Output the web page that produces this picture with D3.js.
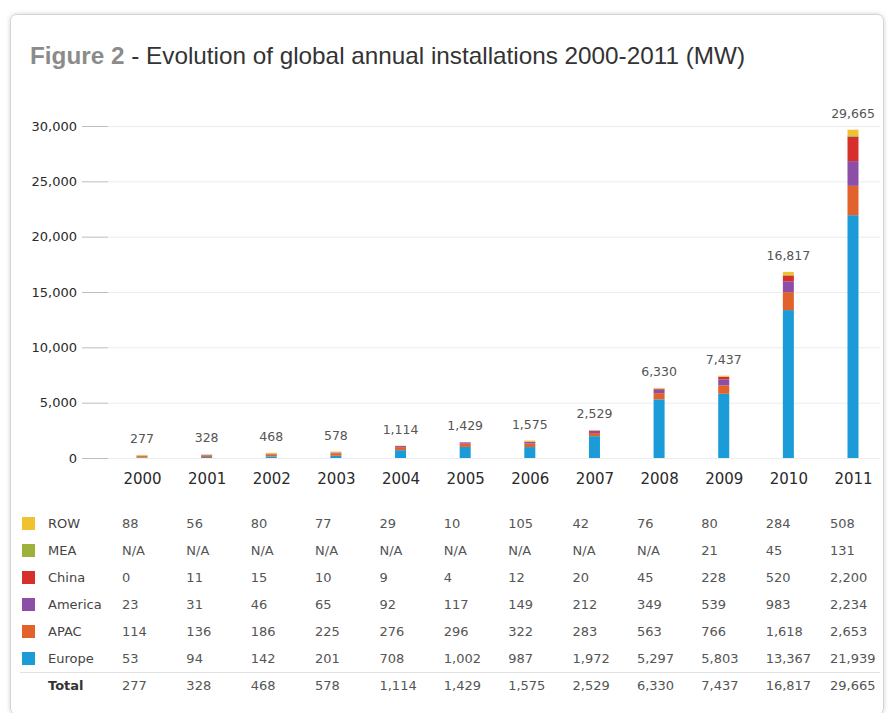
<!DOCTYPE html>
<html>
<head>
<meta charset="utf-8">
<script src="https://cdn.jsdelivr.net/npm/d3@7"></script>
<style>
  html, body { margin: 0; padding: 0; background: #ffffff; }
  svg { display: block; }
</style>
</head>
<body>
<svg id="chart" width="891" height="713"></svg>
<script>
// Annual installations by region (MW); null = N/A
const years    = ["2000","2001","2002","2003","2004","2005","2006","2007","2008","2009","2010","2011"];
const europe   = [53, 94, 142, 201, 708, 1002, 987, 1972, 5297, 5803, 13367, 21939];
const apac     = [114, 136, 186, 225, 276, 296, 322, 283, 563, 766, 1618, 2653];
const america  = [23, 31, 46, 65, 92, 117, 149, 212, 349, 539, 983, 2234];
const china    = [0, 11, 15, 10, 9, 4, 12, 20, 45, 228, 520, 2200];
const mea      = [null, null, null, null, null, null, null, null, null, 21, 45, 131];
const row      = [88, 56, 80, 77, 29, 10, 105, 42, 76, 80, 284, 508];
const totals   = [277, 328, 468, 578, 1114, 1429, 1575, 2529, 6330, 7437, 16817, 29665];
const yTicks   = [0, 5000, 10000, 15000, 20000, 25000, 30000];

// Stack order bottom to top
const seriesNames  = ["Europe", "APAC", "America", "China", "MEA", "ROW"];
const seriesValues = [europe, apac, america, china, mea, row];
const seriesColors = ["#1b9bd7", "#e2622b", "#8c4ea6", "#d7302c", "#9db13b", "#f2c12f"];

const svg = d3.select("#chart");
const fmt = d3.format(",");

// Card frame
const defs = svg.append("defs");
const f = defs.append("filter").attr("id", "shadow").attr("x", "-5%").attr("y", "-5%").attr("width", "110%").attr("height", "110%");
f.append("feDropShadow").attr("dx", 0).attr("dy", 0).attr("stdDeviation", 2).attr("flood-color", "#000").attr("flood-opacity", 0.18);
svg.append("rect")
  .attr("x", 10.5).attr("y", 14.5).attr("width", 873).attr("height", 700)
  .attr("rx", 6).attr("fill", "#fff").attr("stroke", "#d4d4d4").attr("stroke-width", 1)
  .attr("filter", "url(#shadow)");

// Title
const title = svg.append("text")
  .attr("x", 30).attr("y", 64)
  .attr("font-family", "'Liberation Sans', Arial, sans-serif")
  .attr("font-size", 24)
  .attr("textLength", 715)
  .attr("lengthAdjust", "spacingAndGlyphs");
title.append("tspan").attr("fill", "#8b8b8b").attr("font-weight", "bold").text("Figure 2");
title.append("tspan").attr("fill", "#333").text(" - Evolution of global annual installations 2000-2011 (MW)");

// Scales
const y = d3.scaleLinear().domain([0, 30000]).range([458, 126]);
const x = d3.scalePoint().domain(years).range([142, 853]);
const xTable = d3.scalePoint().domain(years).range([122, 830]);
const barW = 11;

// Gridlines
const grid = svg.append("g");
grid.selectAll("line.grid").data(yTicks).join("line")
  .attr("class", "grid")
  .attr("x1", 108).attr("x2", 880)
  .attr("y1", d => y(d) + 0.5).attr("y2", d => y(d) + 0.5)
  .attr("stroke", "#ececec").attr("stroke-width", 1);

// Y axis with short tick marks
const yAxis = svg.append("g")
  .attr("transform", "translate(108,0)")
  .call(d3.axisLeft(y).tickValues(yTicks).tickFormat(fmt).tickSize(26).tickPadding(5));
yAxis.select(".domain").remove();
yAxis.selectAll(".tick line").attr("stroke", "#bdbdbd");
yAxis.selectAll(".tick text")
  .attr("fill", "#2a2a2a")
  .attr("font-family", "'DejaVu Sans', Verdana, sans-serif")
  .attr("font-size", 13);

// Stacked bars
const stackData = years.map((yr, i) => {
  const o = { year: yr };
  seriesNames.forEach((n, k) => { o[n] = seriesValues[k][i] || 0; });
  return o;
});
const stacked = d3.stack().keys(seriesNames)(stackData);

svg.append("g").selectAll("g").data(stacked).join("g")
  .attr("fill", (d, i) => seriesColors[i])
  .selectAll("rect").data(d => d).join("rect")
  .attr("x", d => x(d.data.year) - barW / 2)
  .attr("width", barW)
  .attr("y", d => y(d[1]))
  .attr("height", d => Math.max(0, y(d[0]) - y(d[1])));

// Total labels above bars
svg.append("g").selectAll("text").data(years).join("text")
  .attr("x", d => x(d))
  .attr("y", (d, i) => y(totals[i]) - 12)
  .attr("text-anchor", "middle")
  .attr("fill", "#555")
  .attr("font-family", "'DejaVu Sans', Verdana, sans-serif")
  .attr("font-size", 12.5)
  .text((d, i) => fmt(totals[i]));

// Year labels
const xAxis = svg.append("g")
  .attr("transform", "translate(0,468)")
  .call(d3.axisBottom(x).tickSize(0).tickPadding(0));
xAxis.select(".domain").remove();
xAxis.selectAll(".tick text")
  .attr("dy", 16)
  .attr("fill", "#2a2a2a")
  .attr("font-family", "'DejaVu Sans', Verdana, sans-serif")
  .attr("font-size", 15);

// Data table with legend swatches (top row = top of stack)
const tableRows = seriesNames.map((n, k) => ({ name: n, values: seriesValues[k], color: seriesColors[k] })).reverse();
const rowY = d3.scalePoint().domain(tableRows.map(r => r.name).concat(["Total"])).range([528, 690]);
const tableFont = "'DejaVu Sans', Verdana, sans-serif";

const rowsG = svg.append("g").selectAll("g").data(tableRows).join("g")
  .attr("transform", d => `translate(0,${rowY(d.name)})`);
rowsG.append("rect")
  .attr("x", 22).attr("y", -11).attr("width", 13).attr("height", 13)
  .attr("fill", d => d.color);
rowsG.append("text")
  .attr("x", 48)
  .attr("fill", "#444").attr("font-family", tableFont).attr("font-size", 13)
  .text(d => d.name);
rowsG.selectAll("text.val").data(d => d.values.map((v, i) => ({ v, yr: years[i] }))).join("text")
  .attr("class", "val")
  .attr("x", d => xTable(d.yr))
  .attr("fill", "#555").attr("font-family", tableFont).attr("font-size", 13)
  .text(d => d.v === null ? "N/A" : fmt(d.v));

// Separator above totals
svg.append("line")
  .attr("x1", 20).attr("x2", 880)
  .attr("y1", 672.5).attr("y2", 672.5)
  .attr("stroke", "#e2e2e2");

const totalG = svg.append("g").attr("transform", `translate(0,${rowY("Total")})`);
totalG.append("text")
  .attr("x", 48).attr("fill", "#333").attr("font-weight", "bold")
  .attr("font-family", tableFont).attr("font-size", 13)
  .text("Total");
totalG.selectAll("text.val").data(years).join("text")
  .attr("class", "val")
  .attr("x", d => xTable(d))
  .attr("fill", "#555").attr("font-family", tableFont).attr("font-size", 13)
  .text((d, i) => fmt(totals[i]));
</script>
</body>
</html>
